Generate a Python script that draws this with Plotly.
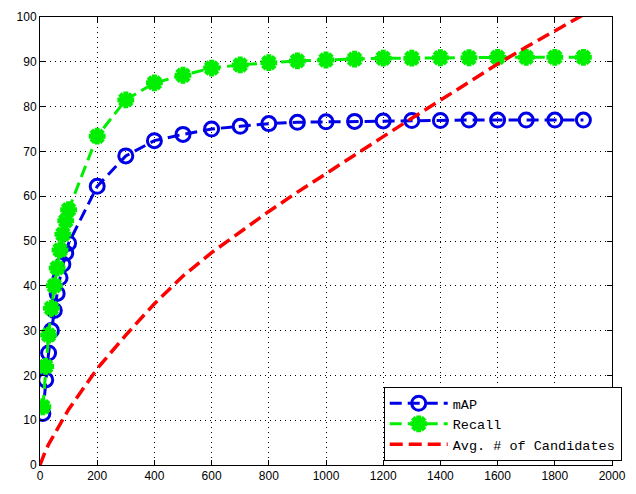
import plotly.graph_objects as go

# x positions (number of candidates / shortlist size)
x_vals = [10, 20, 30, 40, 50, 60, 70, 80, 90, 100,
          200, 300, 400, 500, 600, 700, 800, 900, 1000,
          1100, 1200, 1300, 1400, 1500, 1600, 1700, 1800, 1900]

map_vals = [11.5, 19.0, 25.0, 30.0, 34.5, 38.3, 41.8, 44.8, 47.3, 49.5,
            62.2, 69.0, 72.4, 73.8, 75.0, 75.6, 76.2, 76.5, 76.6,
            76.7, 76.8, 76.9, 76.9, 77.0, 77.0, 77.0, 77.0, 77.0]

recall_vals = [13.0, 22.0, 29.0, 35.0, 40.0, 44.0, 48.0, 51.5, 54.5, 57.0,
               73.4, 81.5, 85.3, 87.0, 88.6, 89.3, 89.8, 90.2, 90.4,
               90.6, 90.8, 90.8, 90.9, 90.9, 91.0, 91.0, 91.0, 91.0]

cand_x = [0, 10, 20, 30, 40, 50, 60, 70, 80, 90, 100,
          200, 300, 400, 500, 600, 700, 800, 900, 1000,
          1100, 1200, 1300, 1400, 1500, 1600, 1700, 1800, 1900, 2000]
cand_vals = [0.0, 1.8, 3.3, 4.6, 5.8, 6.9, 8.0, 9.1, 10.2, 11.3, 12.4,
             21.5, 29.0, 36.0, 42.2, 47.4, 52.1, 56.6, 60.9, 65.1,
             69.2, 73.3, 77.4, 81.5, 85.5, 89.5, 93.3, 97.0, 100.5, 104.0]

x_ticks = list(range(0, 2001, 200))
y_ticks = list(range(0, 101, 10))

fig = go.Figure()

fig.add_trace(go.Scatter(
    x=x_vals, y=map_vals, name="mAP", mode="lines+markers",
    line=dict(color="#0000e6", width=3, dash="12px,6px"),
    marker=dict(symbol="circle-open", size=14, color="#0000e6",
                line=dict(width=3, color="#0000e6")),
))
fig.add_trace(go.Scatter(
    x=x_vals, y=recall_vals, name="Recall", mode="lines+markers",
    line=dict(color="#00ee00", width=3, dash="12px,6px"),
    marker=dict(symbol="asterisk-open", size=14, color="#00ee00",
                line=dict(width=5, color="#00ee00")),
))
fig.add_trace(go.Scatter(
    x=cand_x, y=cand_vals, name="Avg. # of Candidates", mode="lines",
    line=dict(color="#ff0000", width=3.5, dash="13px,6px"),
))

axis_common = dict(
    showline=True, linecolor="black", linewidth=1, mirror="ticks",
    ticks="inside", ticklen=5, tickcolor="black", tickwidth=1,
    showgrid=True, gridcolor="black", gridwidth=1, griddash="1px,4px",
    zeroline=False,
    tickfont=dict(family="Liberation Sans, Arial, sans-serif", size=12, color="black"),
)

fig.update_xaxes(range=[0, 2000], tickvals=x_ticks,
                 ticktext=[str(v) for v in x_ticks], **axis_common)
fig.update_yaxes(range=[0, 100], tickvals=y_ticks,
                 ticktext=[str(v) for v in y_ticks], **axis_common)

fig.update_layout(
    width=636, height=494,
    margin=dict(l=40, r=14, t=10, b=29),
    paper_bgcolor="white", plot_bgcolor="white",
    showlegend=True,
    legend=dict(
        x=1.017, y=0.009, xanchor="right", yanchor="bottom",
        bgcolor="white", bordercolor="black", borderwidth=1,
        font=dict(family="Liberation Mono, Courier New, monospace", size=13.5, color="black"),
        itemwidth=58, tracegroupgap=0,
    ),
)

fig.write_html(
    "out.html",
    config={"displayModeBar": False},
    post_script="document.body.style.margin='0';document.body.style.overflow='hidden';",
)
